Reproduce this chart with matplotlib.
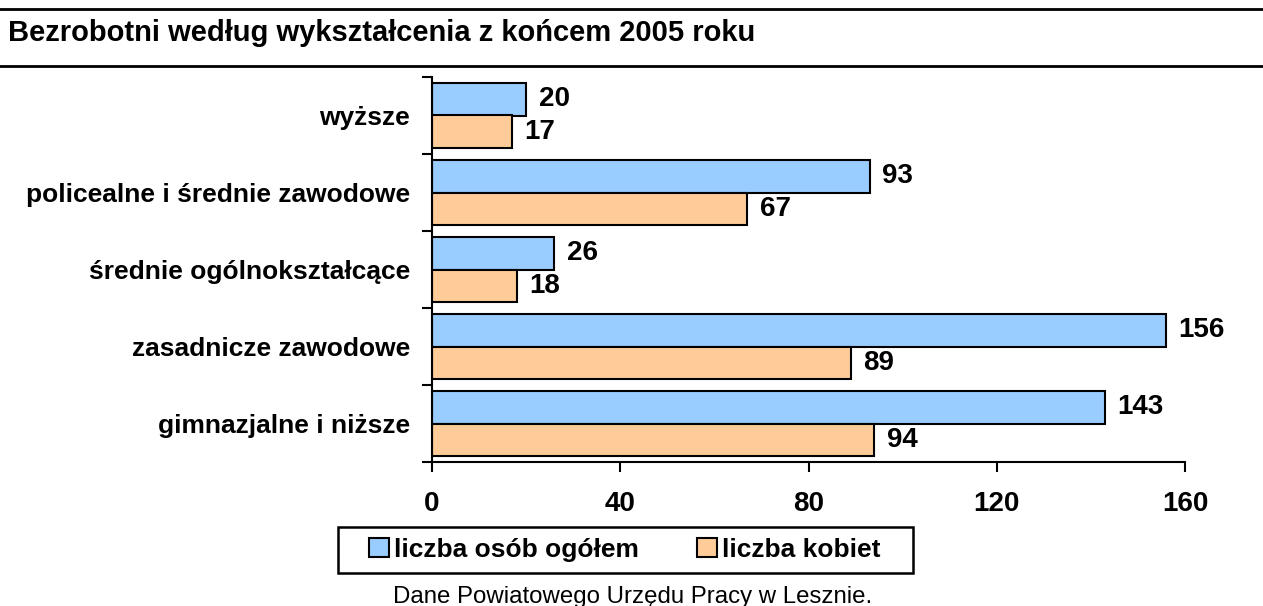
import matplotlib
matplotlib.use("Agg")
import matplotlib.pyplot as plt
from matplotlib.lines import Line2D
from matplotlib.patches import Patch, Rectangle

plt.rcParams['font.family'] = ['Liberation Sans', 'DejaVu Sans']

categories = ["gimnazjalne i niższe", "zasadnicze zawodowe", "średnie ogólnokształcące",
              "policealne i średnie zawodowe", "wyższe"]
ogolem = [143, 156, 26, 93, 20]
kobiety = [94, 89, 18, 67, 17]
series_names = ["liczba osób ogółem", "liczba kobiet"]
xticks = [0, 40, 80, 120, 160]

W, H = 1263, 606
fig = plt.figure(figsize=(W / 100, H / 100), dpi=100)
ax = fig.add_axes([432 / W, 1 - 462 / H, (1185 - 432) / W, (462 - 77) / H])

ypos = list(range(len(categories)))
h = 0.42
ax.barh([y + h / 2 for y in ypos], ogolem, height=h, color="#99CCFF", edgecolor="black", linewidth=1.5)
ax.barh([y - h / 2 for y in ypos], kobiety, height=h, color="#FFCC99", edgecolor="black", linewidth=1.5)

for y, v in zip(ypos, ogolem):
    ax.annotate(str(v), (v, y + h / 2), xytext=(9, 0), textcoords="offset points",
                va="center", ha="left", fontsize=20, fontweight="bold")
for y, v in zip(ypos, kobiety):
    ax.annotate(str(v), (v, y - h / 2), xytext=(9, 0), textcoords="offset points",
                va="center", ha="left", fontsize=20, fontweight="bold")

ax.set_xlim(0, 160)
ax.set_ylim(-0.5, len(categories) - 0.5)
ax.set_xticks(xticks)
ax.set_xticklabels([str(t) for t in xticks], fontsize=20, fontweight="bold")
ax.set_yticks([y - 0.5 for y in range(len(categories) + 1)])
ax.set_yticklabels([])
ax.set_yticks(ypos, minor=True)
ax.set_yticklabels(categories, minor=True, fontsize=19, fontweight="bold")
ax.tick_params(axis="y", which="minor", length=0, pad=16)
ax.tick_params(axis="y", which="major", length=7, width=1.5, direction="out")
ax.tick_params(axis="x", length=7, width=1.5, direction="out", pad=14)
for s in ["top", "right"]:
    ax.spines[s].set_visible(False)
for s in ["left", "bottom"]:
    ax.spines[s].set_linewidth(1.5)

# legend without its own frame, box drawn separately (wider side padding)
handles = [Patch(facecolor="#99CCFF", edgecolor="black", linewidth=1.5),
           Patch(facecolor="#FFCC99", edgecolor="black", linewidth=1.5)]
fig.legend(handles, series_names, loc="center", bbox_to_anchor=(625 / W, 1 - 550 / H),
           ncol=2, frameon=False,
           prop={"size": 19, "weight": "bold"}, handlelength=0.75, handleheight=0.75,
           handletextpad=0.2, columnspacing=2.2, borderpad=0.45)
fig.add_artist(Rectangle((338 / W, 1 - 573 / H), (913 - 338) / W, 46 / H,
                         transform=fig.transFigure, fill=False, edgecolor="black", linewidth=1.8))

fig.text(8 / W, 1 - 33 / H, "Bezrobotni według wykształcenia z końcem 2005 roku",
         fontsize=21, fontweight="bold", va="center", ha="left")
fig.text(633 / W, 1 - 597 / H, "Dane Powiatowego Urzędu Pracy w Lesznie.",
         fontsize=17.3, va="center", ha="center")

fig.add_artist(Line2D([0, 1], [1 - 9 / H, 1 - 9 / H], color="black", linewidth=2))
fig.add_artist(Line2D([0, 1], [1 - 66 / H, 1 - 66 / H], color="black", linewidth=2))

fig.savefig("out.png", dpi=100)
